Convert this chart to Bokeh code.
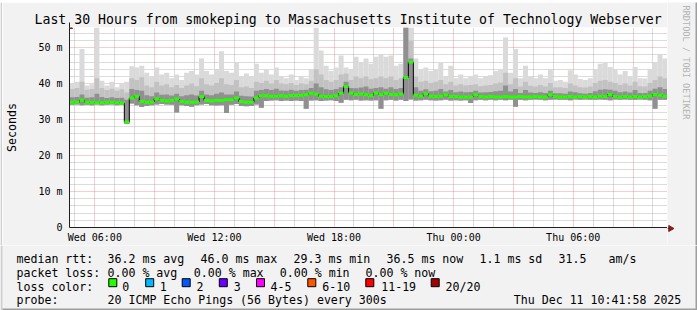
import math
from bokeh.plotting import figure
from bokeh.layouts import column, row
from bokeh.models import Range1d, FixedTicker, Arrow, NormalHead, ColumnDataSource
from bokeh.core.properties import value
from bokeh.embed import file_html
from bokeh.resources import INLINE

# ---------------- data (ms), 15-minute bins starting Wed 04:44 ----------------
START_HOUR = 4.73      # hours after Wed 00:00
BIN_HOURS = 0.25
SPAN_HOURS = 30

median_ms = [
    34.8, 34.8, 35.4, 34.8, 34.8, 34.7, 34.7, 34.8, 34.8, 34.7,
    34.6, 29.3, 36.0, 36.5, 35.0, 34.8, 34.9, 35.8, 35.3, 35.2,
    35.3, 35.7, 35.0, 34.8, 34.8, 34.9, 36.4, 35.3, 35.2, 35.4,
    35.3, 35.5, 35.5, 36.0, 35.0, 34.8, 34.8, 36.0, 36.6, 36.6,
    36.5, 36.5, 36.6, 36.5, 36.7, 36.7, 36.8, 36.9, 37.3, 37.1,
    36.5, 36.4, 36.4, 36.6, 37.3, 39.2, 37.4, 37.0, 37.1, 36.9,
    36.7, 37.4, 37.0, 37.3, 37.0, 36.9, 37.1, 41.7, 46.0, 36.8,
    36.5, 37.2, 36.5, 36.4, 36.5, 36.9, 36.4, 36.4, 36.3, 36.3,
    36.3, 36.9, 36.4, 36.3, 36.4, 36.3, 36.3, 36.4, 36.3, 36.3,
    36.4, 36.3, 36.3, 36.4, 36.3, 36.3, 36.9, 36.4, 36.3, 36.3,
    36.4, 36.3, 36.4, 36.3, 36.4, 36.3, 36.5, 36.4, 37.0, 36.4,
    36.3, 36.4, 36.3, 36.4, 36.3, 36.4, 36.5, 37.0, 36.8, 36.5,
]
min_ms = [
    34.1, 34.2, 34.0, 34.1, 34.0, 34.2, 34.0, 34.1, 34.2, 34.0,
    34.1, 28.8, 34.5, 34.0, 33.5, 33.8, 34.0, 34.2, 34.3, 34.2,
    34.1, 32.0, 34.0, 33.8, 33.6, 34.0, 34.2, 34.3, 34.0, 33.9,
    34.0, 31.8, 34.1, 34.3, 33.8, 33.7, 33.8, 34.2, 33.3, 35.2,
    35.3, 35.4, 35.2, 35.3, 35.2, 35.3, 35.2, 33.0, 35.3, 35.4,
    35.2, 35.3, 35.4, 35.2, 34.7, 35.5, 35.4, 35.5, 35.3, 35.4,
    35.3, 35.4, 33.0, 35.4, 35.5, 35.3, 35.5, 35.2, 35.6, 35.3,
    35.4, 35.5, 35.4, 35.3, 35.4, 35.5, 35.3, 35.4, 35.3, 35.4,
    34.6, 35.4, 35.5, 35.4, 35.5, 35.4, 35.5, 35.4, 35.5, 33.6,
    35.5, 35.4, 35.5, 35.6, 35.5, 35.4, 35.5, 35.6, 35.5, 35.5,
    35.4, 35.6, 35.5, 35.6, 35.5, 35.5, 35.6, 35.5, 35.4, 35.6,
    35.5, 35.6, 35.5, 35.5, 35.6, 35.5, 35.4, 33.0, 35.5, 35.5,
]
dark_ms = [
    36.2, 36.3, 37.0, 36.1, 36.2, 37.2, 36.3, 36.0, 36.2, 36.0,
    36.1, 35.5, 38.5, 38.2, 38.0, 36.8, 36.5, 37.5, 36.9, 37.0,
    36.7, 37.2, 36.5, 36.8, 37.0, 36.7, 38.0, 37.0, 36.8, 37.2,
    37.5, 37.0, 37.0, 37.8, 36.6, 36.5, 36.4, 38.0, 38.2, 38.5,
    38.2, 38.6, 38.1, 38.0, 38.3, 38.0, 38.2, 38.3, 38.8, 40.0,
    39.0, 38.4, 38.2, 38.5, 39.0, 40.5, 38.8, 38.7, 38.9, 39.2,
    38.6, 38.8, 39.0, 38.6, 39.0, 38.5, 38.8, 55.6, 47.0, 39.0,
    38.0, 38.4, 37.9, 38.0, 38.5, 37.8, 38.2, 37.6, 37.8, 37.6,
    37.7, 38.0, 37.5, 37.6, 37.7, 37.9, 38.0, 39.5, 37.8, 38.5,
    37.4, 38.2, 37.5, 37.4, 37.6, 37.4, 38.0, 37.3, 37.3, 37.2,
    37.8, 37.6, 37.3, 37.2, 37.4, 37.9, 38.3, 38.4, 38.3, 38.0,
    37.6, 37.8, 37.5, 38.2, 37.4, 37.4, 38.0, 38.6, 39.0, 38.5,
]
mid_ms = [
    38.5, 38.8, 40.5, 38.3, 38.5, 41.5, 38.8, 38.2, 38.6, 38.0,
    38.4, 37.5, 41.5, 41.0, 41.8, 39.5, 39.0, 40.5, 39.5, 39.8,
    39.0, 39.6, 38.8, 39.5, 40.0, 39.3, 41.5, 39.8, 39.5, 40.2,
    41.5, 39.8, 39.6, 41.0, 39.0, 39.2, 38.8, 40.5, 40.2, 40.8,
    40.0, 41.0, 40.0, 39.8, 40.2, 39.6, 40.0, 39.8, 40.8, 44.0,
    42.5, 41.0, 40.5, 41.0, 42.5, 42.8, 41.0, 42.0, 41.5, 42.0,
    41.2, 41.5, 42.0, 41.5, 42.0, 41.0, 41.5, 55.6, 52.0, 42.0,
    40.5, 40.8, 40.2, 40.5, 41.0, 39.8, 40.5, 39.5, 39.8, 39.5,
    39.6, 39.8, 39.3, 39.5, 39.6, 40.0, 40.3, 43.0, 39.8, 41.5,
    39.2, 40.5, 39.4, 39.2, 39.6, 39.2, 40.2, 38.9, 39.0, 38.8,
    40.0, 39.5, 39.0, 38.9, 39.2, 40.2, 40.8, 41.0, 40.5, 40.2,
    39.6, 40.0, 39.5, 40.5, 39.3, 39.2, 40.2, 41.0, 42.0, 41.5,
]
max_ms = [
    40.0, 40.5, 49.6, 39.5, 39.8, 55.6, 40.8, 39.5, 40.5, 39.0,
    40.0, 40.5, 44.8, 44.5, 45.0, 43.0, 42.0, 44.5, 42.5, 43.0,
    41.5, 42.5, 41.0, 43.0, 43.5, 42.5, 47.0, 43.5, 42.5, 44.0,
    49.0, 43.5, 43.0, 46.0, 42.0, 42.8, 42.0, 45.5, 43.0, 44.0,
    42.5, 44.5, 42.0, 41.5, 42.5, 41.0, 42.0, 41.5, 44.0, 55.6,
    49.2, 45.0, 43.5, 44.5, 47.8, 44.5, 44.0, 47.5, 46.0, 47.0,
    45.5, 47.5, 48.2, 47.5, 47.8, 45.0, 45.5, 55.6, 55.6, 47.0,
    44.0, 44.5, 43.5, 44.0, 45.8, 42.0, 45.0, 41.5, 42.5, 41.5,
    42.0, 42.5, 41.5, 42.0, 42.3, 43.5, 44.0, 52.8, 43.0, 49.6,
    41.5, 45.0, 42.0, 41.5, 42.5, 41.5, 44.0, 40.8, 41.0, 40.5,
    43.7, 42.5, 41.3, 41.0, 41.5, 44.0, 45.5, 45.8, 44.6, 44.0,
    42.5, 43.5, 42.0, 44.6, 41.5, 41.4, 44.0, 46.0, 48.2, 47.0,
]
for arr in (min_ms, dark_ms, mid_ms, max_ms):
    assert len(arr) == len(median_ms), len(arr)

x_tick_hours = [6, 12, 18, 24, 30]
x_tick_labels = ["Wed 06:00", "Wed 12:00", "Wed 18:00", "Thu 00:00", "Thu 06:00"]
y_tick_values = [0, 10, 20, 30, 40, 50]
y_tick_labels = ["0", "10 m", "20 m", "30 m", "40 m", "50 m"]

rtt_stats = ["36.2 ms avg", "46.0 ms max", "29.3 ms min", "36.5 ms now", "1.1 ms sd", "31.5", "am/s"]
loss_stats = ["0.00 % avg", "0.00 % max", "0.00 % min", "0.00 % now"]
loss_labels = ["0", "1", "2", "3", "4-5", "6-10", "11-19", "20/20"]
loss_colors = ["#26ff00", "#00b8ff", "#0059ff", "#6a00ff", "#ff00ff", "#ff5500", "#ff0000", "#a00000"]
probe_text = "20 ICMP Echo Pings (56 Bytes) every 300s"
stamp_text = "Thu Dec 11 10:41:58 2025"
title_text = "Last 30 Hours from smokeping to Massachusetts Institute of Technology Webserver"
watermark_text = "RRDTOOL / TOBI OETIKER"

MONO = "DejaVu Sans Mono"
BG = "#f2f2f2"
SHADE_A = "#cfcfcf"   # top / left edge
SHADE_B = "#9e9e9e"   # bottom / right edge
EDGE = 2
W, H_MAIN, H_LEG = 697, 245, 65
FRAME_L, FRAME_R, FRAME_T, FRAME_B = 67, 667, 27, 228
Y_TOP = 55.6
ARROW_COL = "#801f1f"
AXIS_COL = "#1f1f1f"

def my(py):   # canvas pixel -> ms (main figure)
    return (FRAME_B - py) * Y_TOP / (FRAME_B - FRAME_T)

def blank(width, height, x_range, y_range):
    f = figure(width=width, height=height, output_backend="svg", toolbar_location=None,
               x_range=x_range, y_range=y_range,
               min_border_left=0, min_border_right=0, min_border_top=0, min_border_bottom=0,
               background_fill_color=BG, border_fill_color=BG, outline_line_color=None,
               x_axis_type=None, y_axis_type=None, frame_align=False)
    f.grid.visible = False
    return f

# ---------------- main chart ----------------
times = [START_HOUR + BIN_HOURS * i for i in range(len(median_ms))]
src = ColumnDataSource(dict(
    left=times, right=[t + BIN_HOURS for t in times],
    lo=min_ms, dark=dark_ms, mid=mid_ms, hi=max_ms, med=median_ms,
))

p = figure(width=FRAME_R - EDGE, height=H_MAIN - EDGE, output_backend="svg", toolbar_location=None,
           x_range=Range1d(START_HOUR, START_HOUR + SPAN_HOURS), y_range=Range1d(0, Y_TOP),
           min_border_left=FRAME_L - EDGE, min_border_right=0,
           min_border_top=FRAME_T - EDGE, min_border_bottom=H_MAIN - FRAME_B,
           background_fill_color="white", border_fill_color=BG, outline_line_color=None,
           frame_align=False)

p.title.text = title_text
p.title.text_font = MONO
p.title.text_font_size = "13.2px"
p.title.text_font_style = "normal"
p.title.text_color = "black"
p.title.align = "left"
p.title.offset = -35
p.title.standoff = 2

# grid
hour_lines = list(range(5, 35))
p.xgrid.ticker = FixedTicker(ticks=[h for h in hour_lines if h % 3 == 0],
                             minor_ticks=[h for h in hour_lines if h % 3 != 0])
p.ygrid.ticker = FixedTicker(ticks=y_tick_values, minor_ticks=[v for v in range(2, 56, 2) if v % 10])
for g in (p.xgrid, p.ygrid):
    g.grid_line_color = "#e86a6a"
    g.grid_line_alpha = 0.65
    g.grid_line_dash = "1 1"
    g.minor_grid_line_color = "#a8a8a8"
    g.minor_grid_line_alpha = 0.8
    g.minor_grid_line_dash = "1 1"

# axes
p.xaxis.ticker = FixedTicker(ticks=x_tick_hours)
p.xaxis.major_label_overrides = {h: s for h, s in zip(x_tick_hours, x_tick_labels)}
p.yaxis.ticker = FixedTicker(ticks=y_tick_values)
p.yaxis.major_label_overrides = {v: s for v, s in zip(y_tick_values, y_tick_labels)}
p.yaxis.axis_label = "Seconds"
for ax in (p.xaxis, p.yaxis):
    ax.major_tick_in = 0
    ax.major_tick_out = 0
    ax.minor_tick_in = 0
    ax.minor_tick_out = 0
    ax.axis_line_color = AXIS_COL
    ax.major_label_text_font = MONO
    ax.major_label_text_font_size = "10px"
    ax.major_label_text_color = "black"
p.xaxis.major_label_standoff = 4
p.yaxis.major_label_standoff = 7
p.yaxis.axis_label_text_font = MONO
p.yaxis.axis_label_text_font_size = "11.6px"
p.yaxis.axis_label_text_font_style = "normal"
p.yaxis.axis_label_text_color = "black"
p.yaxis.axis_label_standoff = 16

# smoke
p.quad(left="left", right="right", bottom="lo", top="hi", source=src, fill_color="#dadada", line_color=None)
p.quad(left="left", right="right", bottom="lo", top="mid", source=src, fill_color="#c2c2c2", line_color=None)
p.quad(left="left", right="right", bottom="lo", top="dark", source=src, fill_color="#909090", line_color=None)
# median
p.step(x="left", y="med", mode="after", source=src, line_color="black", line_width=1)
p.segment(x0="left", x1="right", y0="med", y1="med", source=src, line_color="#26ff00", line_width=3)

# y-axis arrow
p.add_layout(Arrow(end=NormalHead(size=6, fill_color=ARROW_COL, line_color=ARROW_COL),
                   x_start=START_HOUR, y_start=Y_TOP - 0.5, x_end=START_HOUR, y_end=my(FRAME_T - 5),
                   line_color=AXIS_COL))

# ---------------- edge strips and side panel (units = canvas px) ----------------
top = blank(W, EDGE, Range1d(0, W), Range1d(EDGE, 0))
top.quad(left=[0], right=[W], top=[0], bottom=[EDGE], fill_color=SHADE_A, line_color=None)

left = blank(EDGE, H_MAIN - EDGE, Range1d(0, EDGE), Range1d(H_MAIN, EDGE))
left.quad(left=[0], right=[EDGE], top=[EDGE], bottom=[H_MAIN], fill_color=SHADE_A, line_color=None)

# side: x = canvas px, y = H_MAIN - canvas px
side = blank(W - FRAME_R, H_MAIN - EDGE, Range1d(FRAME_R, W), Range1d(0, H_MAIN - EDGE))
side.text(x=[685.8], y=[H_MAIN - 5], text=[watermark_text], angle=-math.pi / 2,
          text_font=value(MONO), text_font_size="8.6px", text_color="#b4b4b4",
          text_align="left", text_baseline="middle")
side.segment(x0=[FRAME_R], x1=[669], y0=[H_MAIN - FRAME_B], y1=[H_MAIN - FRAME_B],
             line_color=AXIS_COL, line_width=1)
side.scatter(x=[670], y=[H_MAIN - FRAME_B], marker="triangle", angle=-math.pi / 2, size=6,
             fill_color=ARROW_COL, line_color=ARROW_COL)
side.quad(left=[W - EDGE], right=[W], bottom=[0], top=[H_MAIN], fill_color=SHADE_B, line_color=None)

# ---------------- legend strip (units = canvas px, y down) ----------------
leg = blank(W, H_LEG, Range1d(0, W), Range1d(H_MAIN + H_LEG, H_MAIN))

row_y = [258, 272, 286, 299.5]
rtt_x = [107, 200, 293, 386, 479, 558, 608]
loss_x = [107, 193.3, 279.3, 365]
sw_x = [112.3, 149.2, 185.7, 222.8, 260, 311.3, 369.3, 434.7]
sw_text_x = [121.7, 159.3, 196, 233.3, 270, 321.7, 380.7, 445]

texts, xs, ys = [], [], []
def add(t, x, y):
    texts.append(t); xs.append(x); ys.append(y)

add("median rtt:", 16, row_y[0])
for t, x in zip(rtt_stats, rtt_x):
    add(t, x, row_y[0])
add("packet loss:", 16, row_y[1])
for t, x in zip(loss_stats, loss_x):
    add(t, x, row_y[1])
add("loss color:", 16, row_y[2])
for t, x in zip(loss_labels, sw_text_x):
    add(t, x, row_y[2])
add("probe:", 16, row_y[3])
add(probe_text, 107, row_y[3])
add(stamp_text, 513.3, row_y[3])

leg.text(x=xs, y=ys, text=texts, text_font=value(MONO), text_font_size="11.6px",
         text_baseline="alphabetic", text_align="left", text_color="black")
leg.rect(x=sw_x, y=[282.2] * len(sw_x), width=8, height=8, fill_color=loss_colors,
         line_color="black", line_width=1)
leg.quad(left=[0], right=[EDGE], top=[H_MAIN], bottom=[H_MAIN + H_LEG], fill_color=SHADE_A, line_color=None)
leg.quad(left=[W - EDGE], right=[W], top=[H_MAIN], bottom=[H_MAIN + H_LEG], fill_color=SHADE_B, line_color=None)
leg.quad(left=[EDGE], right=[W], top=[H_MAIN + H_LEG - EDGE], bottom=[H_MAIN + H_LEG],
         fill_color=SHADE_B, line_color=None)

layout = column(top, row(left, p, side, spacing=0), leg, spacing=0)
open("out.html", "w").write(file_html(layout, INLINE))
